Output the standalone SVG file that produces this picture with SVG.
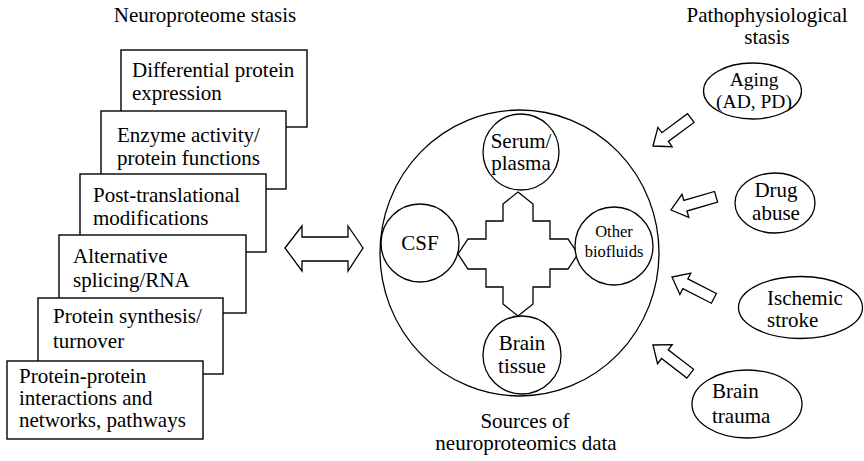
<svg xmlns="http://www.w3.org/2000/svg" width="864" height="461" viewBox="0 0 864 461" font-family="'Liberation Serif', 'Times New Roman', serif">
<defs>
<style>
text{font-family:"Liberation Serif","Times New Roman",serif;font-size:21px;fill:#000}
.c{text-anchor:middle}
.sm{font-size:16.5px}
.md{font-size:19.5px}
.box{fill:#fff;stroke:#000;stroke-width:1.4}
.sh{fill:#fff;stroke:#000;stroke-width:1.3}
.ln{fill:none;stroke:#000;stroke-width:1.3}
</style>
<polygon id="barrow" points="0,0 -15,-12 -15,-5.5 -47,-5.5 -47,5.5 -15,5.5 -15,12" class="sh"/>
</defs>
<rect width="864" height="461" fill="#fff"/>

<text id="title-left" class="c" x="205" y="22">Neuroproteome stasis</text>
<g id="title-right"><text class="c" x="767" y="22">Pathophysiological</text><text class="c" x="767" y="44">stasis</text></g>

<g id="box1"><rect class="box" x="121" y="50" width="186" height="77"/><text x="132" y="77">Differential protein</text><text x="132" y="100">expression</text></g>
<g id="box2"><rect class="box" x="101" y="111" width="185" height="78"/><text x="117" y="142">Enzyme activity/</text><text x="117" y="165">protein functions</text></g>
<g id="box3"><rect class="box" x="80" y="174" width="186" height="78"/><text x="93" y="202">Post-translational</text><text x="93" y="225">modifications</text></g>
<g id="box4"><rect class="box" x="59" y="235" width="187" height="78"/><text x="73" y="263">Alternative</text><text x="73" y="287">splicing/RNA</text></g>
<g id="box5"><rect class="box" x="38" y="298" width="185" height="76"/><text x="53" y="323">Protein synthesis/</text><text x="53" y="348">turnover</text></g>
<g id="box6"><rect class="box" x="7" y="361" width="196" height="78"/><text x="19" y="383">Protein-protein</text><text x="19" y="405">interactions and</text><text x="19" y="427">networks, pathways</text></g>

<g id="sources"><ellipse class="ln" cx="519.5" cy="253" rx="139.5" ry="143"/></g>
<g id="sources-label"><text class="c" x="525" y="428">Sources of</text><text class="c" x="526" y="450">neuroproteomics data</text></g>

<g id="connectors">
<polygon class="sh" points="285,248 302,226 302,237 348,237 348,226 363,248 348,271 348,261 302,261 302,271"/>
<polygon class="sh" transform="translate(518,254)" points="0,-62 15,-50 15,-33 32,-33 32,-15 50,-15 60,0 50,15 32,15 32,33 15,33 15,50 0,62 -15,50 -15,33 -32,33 -32,15 -50,15 -60,0 -50,-15 -32,-15 -32,-33 -15,-33 -15,-50"/>
<use href="#barrow" transform="translate(653,146) rotate(143.5)"/>
<use href="#barrow" transform="translate(671,210) rotate(163.6)"/>
<use href="#barrow" transform="translate(672,277) rotate(207)"/>
<use href="#barrow" transform="translate(653,345) rotate(217.6)"/>
</g>

<g id="serum"><circle class="sh" cx="521" cy="152" r="38"/><text class="c" x="521" y="148">Serum/</text><text class="c" x="521" y="170">plasma</text></g>
<g id="csf"><circle class="sh" cx="420" cy="243" r="39"/><text class="c" x="420" y="250">CSF</text></g>
<g id="other"><circle class="sh" cx="614" cy="246" r="39"/><text class="c sm" x="614" y="237">Other</text><text class="c sm" x="614" y="257">biofluids</text></g>
<g id="brain"><circle class="sh" cx="522" cy="355" r="39"/><text class="c" x="522" y="350">Brain</text><text class="c" x="522" y="373">tissue</text></g>

<g id="aging"><ellipse class="sh" cx="752.5" cy="91" rx="49" ry="28"/><text class="c md" x="754" y="86">Aging</text><text class="c md" x="754" y="108">(AD, PD)</text></g>
<g id="drug"><ellipse class="sh" cx="775" cy="203" rx="40" ry="30"/><text class="c" x="776" y="197">Drug</text><text class="c" x="776" y="220">abuse</text></g>
<g id="ischemic"><ellipse class="sh" cx="800.5" cy="307.5" rx="62" ry="31"/><text x="767" y="305">Ischemic</text><text x="767" y="327">stroke</text></g>
<g id="trauma"><ellipse class="sh" cx="747" cy="404" rx="55" ry="34"/><text x="712" y="398">Brain</text><text x="712" y="423">trauma</text></g>
</svg>
